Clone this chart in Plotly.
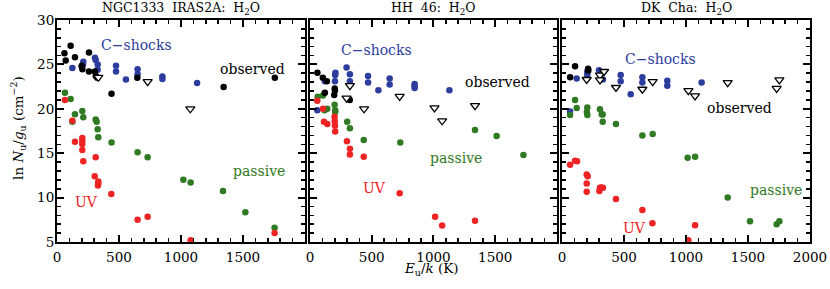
import plotly.graph_objects as go

# ---------------- data (E_u/k in K, ln N_u/g_u) ----------------
titles = ["NGC1333\u00a0\u00a0IRAS2A:\u00a0\u00a0H<sub>2</sub>O", "HH\u00a0\u00a046:\u00a0\u00a0H<sub>2</sub>O", "DK\u00a0\u00a0Cha:\u00a0\u00a0H<sub>2</sub>O"]

# NGC1333 IRAS2A
ngc_obs_E = [60, 70, 110, 145, 200, 205, 258, 258, 306, 313, 325, 440, 648, 1344, 1757]
ngc_obs_v = [26.25, 25.45, 27.1, 25.8, 24.85, 24.45, 26.35, 24.2, 24.2, 23.7, 23.5, 21.7, 23.5, 22.45, 23.5]
ngc_lim_E = [333, 731, 1075]
ngc_lim_v = [23.55, 23.05, 20.0]
ngc_cs_E = [124, 199, 212, 210, 306, 312, 328, 328, 476, 476, 556, 650, 650, 850, 850, 1130]
ngc_cs_v = [24.6, 24.75, 25.3, 25.0, 25.75, 25.5, 25.0, 24.4, 24.85, 24.2, 23.3, 24.45, 23.9, 23.65, 23.35, 22.9]
ngc_pas_E = [64, 110, 124, 145, 204, 212, 312, 320, 328, 333, 440, 650, 731, 1019, 1078, 1339, 1519, 1755]
ngc_pas_v = [21.8, 21.1, 18.55, 19.4, 19.75, 19.05, 18.8, 18.55, 17.7, 16.8, 16.2, 15.1, 14.55, 12.0, 11.7, 10.75, 8.35, 6.6]
ngc_uv_E = [64, 124, 145, 204, 204, 204, 204, 212, 312, 304, 333, 333, 330, 438, 650, 731, 1078, 1755]
ngc_uv_v = [21.0, 18.65, 16.3, 16.7, 16.4, 16.05, 15.35, 14.1, 14.55, 12.4, 11.8, 11.55, 11.35, 10.4, 7.5, 7.85, 5.2, 6.0]

# HH 46
hh_obs_E = [60, 104, 137, 120, 200, 202, 196, 322]
hh_obs_v = [24.05, 23.5, 23.1, 21.8, 22.3, 22.05, 21.55, 21.0]
hh_lim_E = [323, 296, 438, 726, 1008, 1070, 1336]
hh_lim_v = [22.6, 21.2, 20.0, 21.4, 20.1, 18.65, 20.35]
hh_cs_E = [59, 121, 204, 206, 202, 296, 323, 323, 470, 470, 554, 645, 645, 847, 847, 847, 1129]
hh_cs_v = [19.85, 23.1, 23.8, 24.05, 23.1, 24.65, 23.9, 23.1, 23.7, 22.95, 22.1, 23.4, 22.75, 22.8, 22.6, 22.35, 22.1]
hh_pas_E = [62, 105, 118, 140, 199, 204, 204, 301, 323, 435, 731, 1336, 1511, 1728]
hh_pas_v = [21.35, 21.5, 19.85, 20.0, 20.45, 19.85, 19.65, 18.55, 17.8, 16.5, 16.2, 17.6, 16.95, 14.8]
hh_uv_E = [59, 105, 113, 140, 199, 200, 202, 204, 299, 323, 323, 435, 726, 1013, 1070, 1336]
hh_uv_v = [20.9, 20.0, 18.55, 18.3, 19.1, 18.6, 18.1, 17.45, 16.35, 15.5, 14.85, 14.6, 10.5, 7.85, 6.85, 7.4]

# DK Cha
dk_obs_E = [65, 105, 210, 212]
dk_obs_v = [23.55, 24.8, 24.5, 24.3]
dk_lim_E = [199, 306, 306, 339, 435, 648, 731, 1019, 1073, 1336, 1731, 1753]
dk_lim_v = [23.3, 23.8, 23.25, 24.2, 22.4, 22.2, 23.05, 22.05, 21.45, 22.95, 22.3, 23.25]
dk_cs_E = [65, 118, 204, 204, 204, 298, 315, 330, 473, 473, 554, 648, 648, 849, 849, 1126]
dk_cs_v = [19.7, 23.4, 24.2, 23.85, 23.5, 24.35, 23.95, 23.3, 23.8, 23.1, 21.65, 23.55, 22.95, 23.15, 22.6, 22.95]
dk_pas_E = [65, 105, 118, 204, 200, 204, 306, 320, 328, 328, 435, 648, 731, 1013, 1073, 1336, 1516, 1731, 1753]
dk_pas_v = [19.3, 21.0, 20.1, 20.15, 19.65, 19.3, 19.95, 19.4, 19.35, 18.55, 18.3, 17.0, 17.15, 14.5, 14.6, 10.0, 7.35, 7.0, 7.35]
dk_uv_E = [65, 105, 121, 199, 207, 199, 199, 306, 318, 330, 301, 435, 648, 729, 1019, 1073]
dk_uv_v = [13.7, 14.15, 14.1, 12.6, 12.4, 11.6, 10.65, 11.1, 11.15, 11.1, 10.75, 9.85, 8.6, 7.1, 5.2, 6.9]

x_ticks = [0, 500, 1000, 1500, 2000]
y_ticks = [5, 10, 15, 20, 25, 30]

# ---------------- styling ----------------
BLACK = "#000000"
BLUE = "#2c3d9e"
GREEN = "#2f7a22"
RED = "#ee2424"
FONT = "DejaVu Serif"

panels = [
    (ngc_obs_E, ngc_obs_v, ngc_lim_E, ngc_lim_v, ngc_cs_E, ngc_cs_v, ngc_pas_E, ngc_pas_v, ngc_uv_E, ngc_uv_v),
    (hh_obs_E, hh_obs_v, hh_lim_E, hh_lim_v, hh_cs_E, hh_cs_v, hh_pas_E, hh_pas_v, hh_uv_E, hh_uv_v),
    (dk_obs_E, dk_obs_v, dk_lim_E, dk_lim_v, dk_cs_E, dk_cs_v, dk_pas_E, dk_pas_v, dk_uv_E, dk_uv_v),
]

label_pos = [
    {"cs": (645, 27.2), "obs": (1573, 24.5), "pas": (1627, 13.0), "uv": (235, 9.55)},
    {"cs": (540, 26.6), "obs": (1519, 23.05), "pas": (1183, 14.5), "uv": (524, 11.05)},
    {"cs": (794, 25.6), "obs": (1435, 20.1), "pas": (1723, 10.9), "uv": (586, 6.55)},
]

domains = [[0.0, 0.3293], [0.336, 0.664], [0.6707, 1.0]]

fig = go.Figure(layout=dict(template="none"))
annotations = []

for i, (oE, ov, lE, lv, cE, cv, pE, pv, uE, uv) in enumerate(panels):
    xa = "x" if i == 0 else f"x{i+1}"
    ya = "y" if i == 0 else f"y{i+1}"
    def dots(E, v, col):
        fig.add_trace(go.Scatter(x=E, y=v, mode="markers", xaxis=xa, yaxis=ya,
                                 marker=dict(color=col, size=6.5, line=dict(width=0)),
                                 showlegend=False, hoverinfo="skip"))
    dots(cE, cv, BLUE)
    dots(pE, pv, GREEN)
    dots(uE, uv, RED)
    dots(oE, ov, BLACK)
    fig.add_trace(go.Scatter(x=lE, y=lv, mode="markers", xaxis=xa, yaxis=ya,
                             marker=dict(symbol="triangle-down", color="white", size=8,
                                         line=dict(color=BLACK, width=1.3)),
                             showlegend=False, hoverinfo="skip"))

    axis_common = dict(showline=True, linecolor="black", linewidth=2, mirror="allticks",
                       ticks="inside", ticklen=7, tickwidth=2, tickcolor="black",
                       showgrid=False, zeroline=False, automargin=False,
                       tickfont=dict(family=FONT, size=13.5, color="black"))
    xtext = [str(t) for t in x_ticks]
    if i < 2:
        xtext[-1] = " "
    fig.update_layout(**{
        ("xaxis" if i == 0 else f"xaxis{i+1}"): dict(
            domain=domains[i], range=[0, 2000], anchor=ya,
            tickmode="array", tickvals=x_ticks, ticktext=xtext, ticklabelstandoff=2,
            minor=dict(tickmode="linear", dtick=100, tick0=0, ticks="inside", ticklen=4,
                       tickwidth=1.6, tickcolor="black", showgrid=False),
            **axis_common),
        ("yaxis" if i == 0 else f"yaxis{i+1}"): dict(
            domain=[0, 1], range=[5, 30], anchor=xa,
            tickmode="array", tickvals=y_ticks, showticklabels=(i == 0), ticklabelstandoff=-2,
            minor=dict(tickmode="linear", dtick=1, tick0=0, ticks="inside", ticklen=4,
                       tickwidth=1.6, tickcolor="black", showgrid=False),
            **axis_common),
    })

    xr = "x" if i == 0 else f"x{i+1}"
    yr = "y" if i == 0 else f"y{i+1}"
    lp = label_pos[i]
    for key, txt, col in [("cs", "C\u2212shocks", BLUE), ("obs", "observed", BLACK),
                          ("pas", "passive", GREEN), ("uv", "UV", RED)]:
        annotations.append(dict(x=lp[key][0], y=lp[key][1], xref=xr, yref=yr, text=txt,
                                showarrow=False, font=dict(family=FONT, size=14, color=col),
                                xanchor="center", yanchor="middle"))
    # panel title
    annotations.append(dict(x=(domains[i][0] + domains[i][1]) / 2, y=1.05, xref="paper", yref="paper",
                            text=titles[i], showarrow=False,
                            font=dict(family=FONT, size=12.5, color="black"),
                            xanchor="center", yanchor="middle"))

annotations.append(dict(x=-0.0518, y=0.514, xref="paper", yref="paper",
                        text="ln <i>N</i><sub>u</sub>/<i>g</i><sub>u</sub> (cm<sup>\u22122</sup>)",
                        textangle=-90, showarrow=False,
                        font=dict(family=FONT, size=13.5, color="black"),
                        xanchor="center", yanchor="middle"))
annotations.append(dict(x=0.4967, y=-0.12, xref="paper", yref="paper",
                        text="<i>E</i><sub>u</sub>/<i>k</i> (K)", showarrow=False,
                        font=dict(family=FONT, size=13.5, color="black"),
                        xanchor="center", yanchor="middle"))

fig.update_layout(width=830, height=289, margin=dict(l=57, r=20, t=20, b=47),
                  paper_bgcolor="white", plot_bgcolor="white", hovermode=False,
                  annotations=annotations, showlegend=False)

# remove the browser's default 8px body margin so the figure sits at the page origin
fig.write_html("out.html", config={"displayModeBar": False, "staticPlot": True},
               post_script="document.body.style.margin='0px'; document.body.style.overflow='hidden';")
